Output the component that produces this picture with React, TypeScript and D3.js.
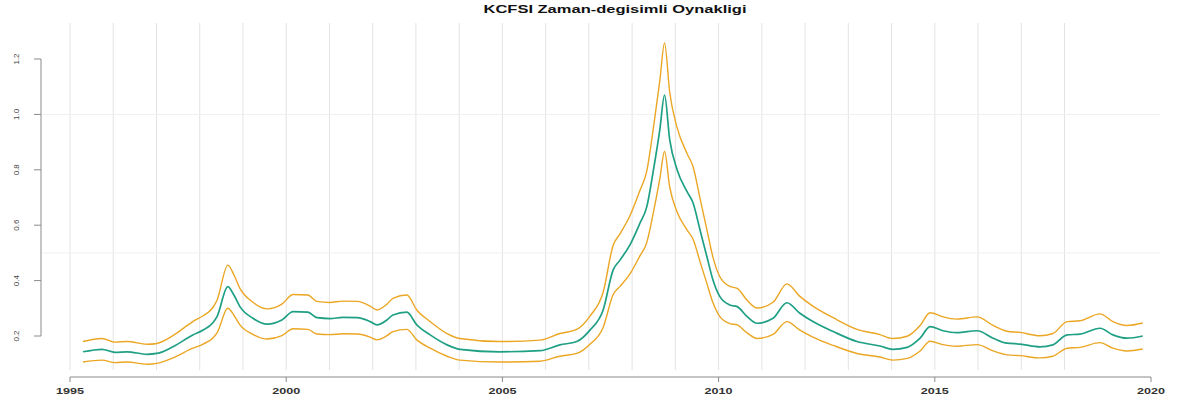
import React from "react";
import * as d3 from "d3";

const years = [
  1995.30, 1995.74, 1996.04, 1996.32, 1996.78, 1997.01, 1997.38, 1997.84, 1998.08, 1998.30,
  1998.40, 1998.65, 1998.79, 1998.93, 1999.23, 1999.56, 1999.90, 2000.16, 2000.50, 2000.71,
  2001.01, 2001.31, 2001.64, 2001.94, 2002.10, 2002.33, 2002.47, 2002.79, 2003.02, 2003.33,
  2003.72, 2004.02, 2004.94, 2005.87, 2006.33, 2006.72, 2007.03, 2007.33, 2007.56, 2007.72,
  2007.95, 2008.18, 2008.34, 2008.48, 2008.64, 2008.75, 2008.87, 2009.04, 2009.27, 2009.41,
  2009.57, 2009.73, 2009.87, 2010.03, 2010.26, 2010.43, 2010.66, 2010.89, 2011.26, 2011.58,
  2011.88, 2012.18, 2012.65, 2013.20, 2013.73, 2014.03, 2014.36, 2014.66, 2014.89, 2015.19,
  2015.51, 2015.98, 2016.35, 2016.67, 2016.97, 2017.43, 2017.73, 2018.06, 2018.36, 2018.82,
  2019.12, 2019.44, 2019.81,
];

const volatility = [
  0.143, 0.152, 0.141, 0.143, 0.134, 0.137, 0.161, 0.204, 0.222, 0.247,
  0.270, 0.378, 0.348, 0.306, 0.264, 0.243, 0.258, 0.288, 0.286, 0.266,
  0.263, 0.267, 0.266, 0.252, 0.240, 0.258, 0.276, 0.286, 0.240, 0.204,
  0.168, 0.152, 0.143, 0.147, 0.168, 0.180, 0.222, 0.294, 0.438, 0.474,
  0.529, 0.607, 0.667, 0.787, 0.944, 1.070, 0.908, 0.800, 0.721, 0.680,
  0.583, 0.486, 0.402, 0.342, 0.312, 0.306, 0.270, 0.246, 0.264, 0.320,
  0.282, 0.252, 0.216, 0.180, 0.164, 0.152, 0.159, 0.192, 0.234, 0.219,
  0.212, 0.219, 0.192, 0.174, 0.171, 0.161, 0.168, 0.204, 0.207, 0.228,
  0.204, 0.192, 0.200,
];

const upperBand = [
  0.180, 0.191, 0.178, 0.180, 0.170, 0.173, 0.201, 0.252, 0.273, 0.302,
  0.329, 0.456, 0.421, 0.372, 0.322, 0.298, 0.315, 0.350, 0.348, 0.325,
  0.321, 0.326, 0.325, 0.308, 0.294, 0.315, 0.336, 0.348, 0.294, 0.252,
  0.209, 0.191, 0.180, 0.185, 0.209, 0.224, 0.273, 0.358, 0.527, 0.569,
  0.634, 0.725, 0.796, 0.937, 1.121, 1.258, 1.079, 0.952, 0.859, 0.811,
  0.697, 0.583, 0.484, 0.414, 0.379, 0.372, 0.329, 0.301, 0.322, 0.388,
  0.343, 0.308, 0.266, 0.224, 0.205, 0.191, 0.199, 0.238, 0.284, 0.269,
  0.261, 0.269, 0.238, 0.217, 0.213, 0.201, 0.209, 0.252, 0.255, 0.280,
  0.252, 0.238, 0.247,
];

const lowerBand = [
  0.106, 0.113, 0.104, 0.106, 0.098, 0.101, 0.121, 0.156, 0.171, 0.192,
  0.211, 0.300, 0.275, 0.240, 0.206, 0.189, 0.201, 0.226, 0.224, 0.207,
  0.205, 0.208, 0.207, 0.196, 0.186, 0.201, 0.216, 0.224, 0.186, 0.156,
  0.127, 0.113, 0.106, 0.109, 0.127, 0.137, 0.171, 0.231, 0.349, 0.379,
  0.424, 0.489, 0.538, 0.637, 0.767, 0.866, 0.737, 0.648, 0.583, 0.549,
  0.469, 0.389, 0.320, 0.270, 0.245, 0.240, 0.211, 0.191, 0.206, 0.252,
  0.221, 0.196, 0.166, 0.137, 0.124, 0.113, 0.119, 0.146, 0.181, 0.169,
  0.163, 0.169, 0.146, 0.132, 0.129, 0.121, 0.127, 0.156, 0.159, 0.176,
  0.156, 0.146, 0.153,
];

const xTickYears = [1995, 2000, 2005, 2010, 2015, 2020];
const gridYears = d3.range(1995, 2019);
const yTicks = [0.2, 0.4, 0.6, 0.8, 1.0, 1.2];
const yGrid = [0.5, 1.0];
const title = "KCFSI Zaman-degisimli Oynakligi";

const W = 1188;
const H = 401;

export default function App() {
  const x = d3.scaleLinear().domain([1995, 2020]).range([70, 1151]);
  const y = d3.scaleLinear().domain([0.2, 1.2]).range([336, 59]);

  const mk = (vals: number[]) =>
    d3
      .line<number>()
      .x((_, i) => x(years[i]))
      .y((v) => y(v))
      .curve(d3.curveMonotoneX)(vals) as string;

  const font = "'Liberation Sans', Arial, Helvetica, sans-serif";
  const axisColor = "#8a8a8a";
  const teal = "#1fa085";
  const orange = "#eba624";

  return (
    <svg
      width={W}
      height={H}
      style={{ position: "absolute", left: 0, top: 0, background: "#fff" }}
      fontFamily={font}
    >
      {gridYears.map((g) => (
        <line key={"vg" + g} x1={x(g)} x2={x(g)} y1={23} y2={370} stroke="#e3e3e3" strokeWidth={1} />
      ))}
      {yGrid.map((g) => (
        <line key={"hg" + g} x1={43} x2={1160} y1={y(g)} y2={y(g)} stroke="#f0f0f0" strokeWidth={1} />
      ))}

      <path d={mk(upperBand)} fill="none" stroke={orange} strokeWidth={1.4} strokeLinejoin="round" />
      <path d={mk(lowerBand)} fill="none" stroke={orange} strokeWidth={1.4} strokeLinejoin="round" />
      <path d={mk(volatility)} fill="none" stroke={teal} strokeWidth={1.7} strokeLinejoin="round" />

      <line x1={41} x2={41} y1={y(1.2)} y2={y(0.2)} stroke={axisColor} strokeWidth={1} />
      {yTicks.map((t) => (
        <g key={"yt" + t}>
          <line x1={34} x2={41} y1={y(t)} y2={y(t)} stroke={axisColor} strokeWidth={1} />
          <text
            transform={`translate(19,${y(t)}) rotate(-90)`}
            textAnchor="middle"
            fontSize={8}
            fill="#444"
          >
            {t.toFixed(1)}
          </text>
        </g>
      ))}

      <line x1={x(1995)} x2={x(2020)} y1={377} y2={377} stroke={axisColor} strokeWidth={1} />
      {xTickYears.map((t) => (
        <g key={"xt" + t}>
          <line x1={x(t)} x2={x(t)} y1={377} y2={382} stroke={axisColor} strokeWidth={1} />
          <text
            x={x(t)}
            y={394}
            textAnchor="middle"
            fontSize={9}
            fontWeight="bold"
            fill="#333"
            textLength={28}
            lengthAdjust="spacingAndGlyphs"
          >
            {t}
          </text>
        </g>
      ))}

      <text
        x={615}
        y={13}
        textAnchor="middle"
        fontSize={11}
        fontWeight="bold"
        fill="#111"
        textLength={263}
        lengthAdjust="spacingAndGlyphs"
      >
        {title}
      </text>
    </svg>
  );
}
